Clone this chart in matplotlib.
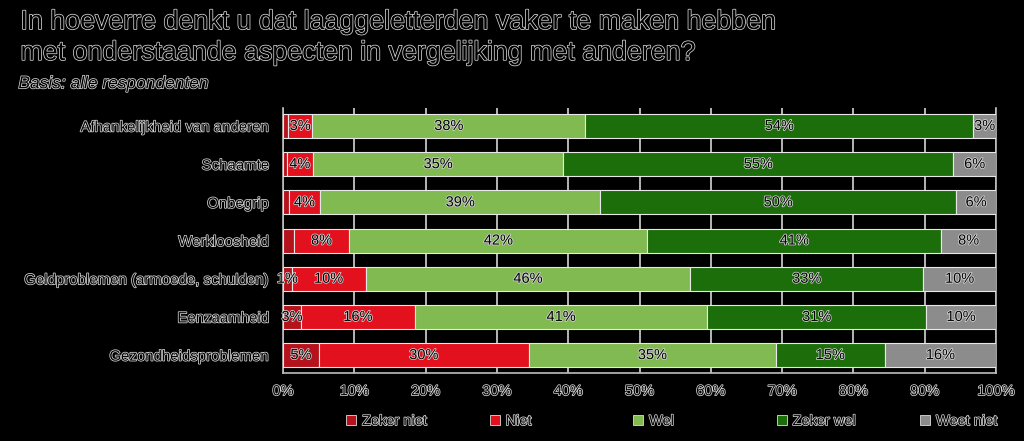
import numpy as np
import matplotlib as mpl
mpl.use("agg")
import matplotlib.pyplot as plt
import matplotlib.patheffects as pe
from matplotlib.patches import Patch

plt.rcParams['font.family'] = ['Liberation Sans', 'DejaVu Sans']

categories = ["Afhankelijkheid van anderen", "Schaamte", "Onbegrip", "Werkloosheid",
              "Geldproblemen (armoede, schulden)", "Eenzaamheid", "Gezondheidsproblemen"]
series = ["Zeker niet", "Niet", "Wel", "Zeker wel", "Weet niet"]
zeker_niet = [0.7, 0.5, 0.8, 1.5, 1.2, 2.5, 5.0]
niet = [3.4, 3.7, 4.4, 7.8, 10.4, 16.0, 29.5]
wel = [38.3, 35.1, 39.3, 41.8, 45.5, 41.0, 34.6]
zeker_wel = [54.4, 54.7, 49.9, 41.2, 32.7, 30.7, 15.3]
weet_niet = [3.2, 6.0, 5.6, 7.7, 10.2, 9.8, 15.6]
# labels of the tiny "zeker niet" parts are not printed in the original
zeker_niet_labels = ["", "", "", "", "1%", "3%", "5%"]
xticks = [0, 10, 20, 30, 40, 50, 60, 70, 80, 90, 100]

colors = ["#b5121b", "#e3101e", "#80ba50", "#1c6e0a", "#8c8c8c"]
outline = [pe.withStroke(linewidth=1.1, foreground="#d8d8d8")]

fig = plt.figure(figsize=(10.24, 4.41), dpi=100, facecolor="black")
ax = fig.add_axes([0.2764, 0.154, 0.6963, 0.601], facecolor="black")

data = [zeker_niet, niet, wel, zeker_wel, weet_niet]
y = np.arange(len(categories))
left = np.zeros(len(categories))
for i, vals in enumerate(data):
    vals = np.array(vals, dtype=float)
    ax.barh(y, vals, left=left, height=0.63, color=colors[i], edgecolor="#e8e8e8",
            linewidth=0.8, zorder=3, label=series[i])
    for j in range(len(categories)):
        if i == 0:
            txt = zeker_niet_labels[j]
        else:
            txt = "%d%%" % int(vals[j] + 0.5)
        if txt:
            ax.text(left[j] + vals[j] / 2, y[j], txt, ha="center", va="center",
                    fontsize=10.5, color="black", path_effects=outline, zorder=4)
    left += vals

ax.set_xlim(0, 100)
ax.set_ylim(6.47, -0.47)
ax.set_yticks(y)
ax.set_yticklabels(categories, fontsize=10.8, color="black", path_effects=outline)
ax.set_xticks(xticks)
ax.set_xticklabels(["%d%%" % t for t in xticks], fontsize=10.5, color="black",
                   path_effects=outline)
ax.tick_params(axis="both", length=0)
ax.tick_params(axis="x", pad=8)
ax.tick_params(axis="y", pad=10)
ax.xaxis.grid(True, color="#d5d5d5", linewidth=1.2, zorder=0)
ax.set_axisbelow(True)
ax.spines["top"].set_visible(False)
for s in ["left", "bottom", "right"]:
    ax.spines[s].set_color("#bdbdbd")
    ax.spines[s].set_linewidth(1.2)

# legend entries evenly spaced, like the original
for i in range(len(series)):
    h = Patch(facecolor=colors[i], edgecolor="#dddddd", linewidth=0.6, label=series[i])
    leg = fig.legend(handles=[h], loc="center left",
                     bbox_to_anchor=((346 + i * 143.5) / 1024, 0.045),
                     frameon=False, fontsize=10.5, handlelength=0.7, handleheight=0.7,
                     handletextpad=0.4, borderpad=0, borderaxespad=0)
    for t in leg.get_texts():
        t.set_color("black")
        t.set_path_effects(outline)

fig.text(0.02, 0.95, "In hoeverre denkt u dat laaggeletterden vaker te maken hebben",
         fontsize=19.3, color="black", va="center", path_effects=outline)
fig.text(0.02, 0.88, "met onderstaande aspecten in vergelijking met anderen?",
         fontsize=19.3, color="black", va="center", path_effects=outline)
fig.text(0.018, 0.81, "Basis: alle respondenten", fontsize=12.5, style="italic",
         color="black", va="center", path_effects=outline)

fig.savefig("out.png", dpi=100, facecolor="black")
